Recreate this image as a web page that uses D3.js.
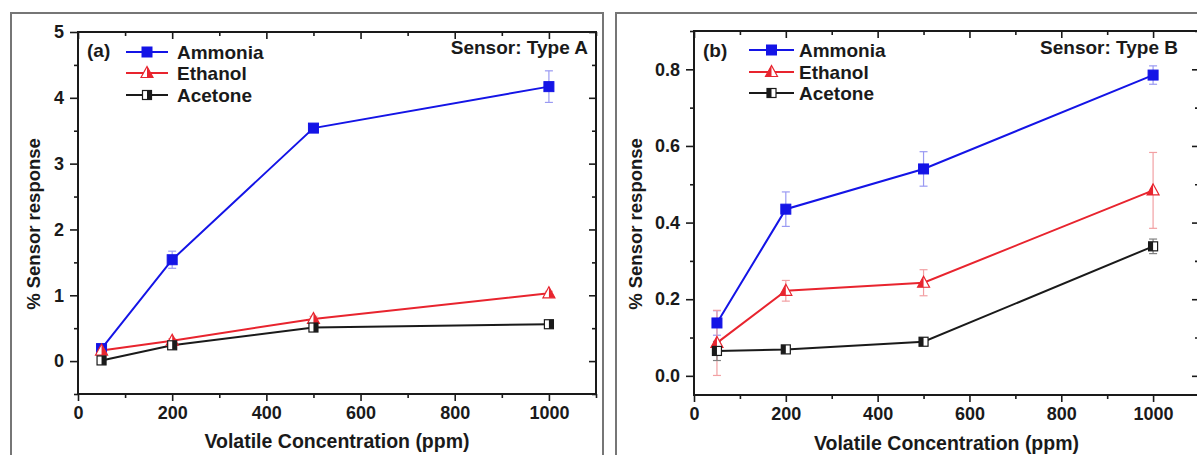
<!DOCTYPE html>
<html>
<head>
<meta charset="utf-8">
<script src="https://cdn.jsdelivr.net/npm/d3@7"></script>
<style>
  html, body { margin: 0; padding: 0; background: #fff; }
  svg { display: block; }
  text { font-family: "Liberation Sans", Arial, sans-serif; font-weight: bold; fill: #1a1a1a; }
</style>
</head>
<body>
<svg id="chart" width="1197" height="455"></svg>
<script>
// ---------- data ----------
const concentrations = [50, 200, 500, 1000];

const ammoniaA = [0.19, 1.54, 3.54, 4.17];
const ammoniaAErr = [0.03, 0.13, 0.03, 0.24];
const ethanolA = [0.16, 0.31, 0.64, 1.03];
const ethanolAErr = [0.03, 0.03, 0.04, 0.03];
const acetoneA = [0.01, 0.24, 0.51, 0.56];
const acetoneAErr = [0.03, 0.03, 0.06, 0.03];

const ammoniaB = [0.138, 0.435, 0.54, 0.785];
const ammoniaBErr = [0.032, 0.045, 0.045, 0.024];
const ethanolB = [0.086, 0.222, 0.243, 0.484];
const ethanolBErr = [0.085, 0.027, 0.034, 0.099];
const acetoneB = [0.065, 0.069, 0.089, 0.338];
const acetoneBErr = [0.025, 0.005, 0.006, 0.019];

const seriesNames = ["Ammonia", "Ethanol", "Acetone"];
const xTicks = [0, 200, 400, 600, 800, 1000];
const xMinorTicks = [100, 300, 500, 700, 900, 1100];
const yTicksA = [0, 1, 2, 3, 4, 5];
const yMinorTicksA = [-0.5, 0.5, 1.5, 2.5, 3.5, 4.5];
const yTicksB = [0.0, 0.2, 0.4, 0.6, 0.8];
const yMinorTicksB = [0.1, 0.3, 0.5, 0.7, 0.9];
const panelLabels = ["(a)", "(b)"];
const sensorLabels = ["Sensor: Type A", "Sensor: Type B"];
const xTitle = "Volatile Concentration (ppm)";
const yTitle = "% Sensor response";

// ---------- styles ----------
const colors = { Ammonia: "#1414e6", Ethanol: "#e8242e", Acetone: "#1a1a1a" };
const errColors = { Ammonia: "#9a9af2", Ethanol: "#f2a0a3", Acetone: "#808080" };
const axisColor = "#1a1a1a";

const svg = d3.select("#chart");

// panel frames
svg.append("rect").attr("x", 11).attr("y", 13).attr("width", 592).attr("height", 470)
  .attr("fill", "none").attr("stroke", "#767676").attr("stroke-width", 2);
svg.append("rect").attr("x", 616).attr("y", 13).attr("width", 620).attr("height", 470)
  .attr("fill", "none").attr("stroke", "#767676").attr("stroke-width", 2);

const panels = [
  {
    left: 78, right: 596, top: 32, bottom: 394,
    yDomain: [-0.5, 5], yTicks: yTicksA, yMinor: yMinorTicksA, yFmt: d3.format("d"),
    series: [
      { name: "Ammonia", vals: ammoniaA, err: ammoniaAErr },
      { name: "Ethanol", vals: ethanolA, err: ethanolAErr },
      { name: "Acetone", vals: acetoneA, err: acetoneAErr }
    ],
    halfSide: "right",
    label: panelLabels[0], sensor: sensorLabels[0],
    labelX: 87, legendLine: [126, 168], legendText: 177, legendY: [52, 73, 95],
    sensorX: 588, yTitleX: 40, xTitleY: 448
  },
  {
    left: 694, right: 1199, top: 31, bottom: 395,
    yDomain: [-0.05, 0.9], yTicks: yTicksB, yMinor: yMinorTicksB, yFmt: d3.format(".1f"),
    series: [
      { name: "Ammonia", vals: ammoniaB, err: ammoniaBErr },
      { name: "Ethanol", vals: ethanolB, err: ethanolBErr },
      { name: "Acetone", vals: acetoneB, err: acetoneBErr }
    ],
    halfSide: "left",
    label: panelLabels[1], sensor: sensorLabels[1],
    labelX: 703, legendLine: [749, 794], legendText: 799, legendY: [50, 72, 93],
    sensorX: 1178, yTitleX: 642, xTitleY: 450
  }
];

function drawMarker(g, name, cx, cy, halfSide) {
  const c = colors[name];
  if (name === "Ammonia") {
    g.append("rect").attr("x", cx - 5).attr("y", cy - 5).attr("width", 10).attr("height", 10)
      .attr("fill", c).attr("stroke", c).attr("stroke-width", 1);
  } else if (name === "Acetone") {
    g.append("rect").attr("x", cx - 4.5).attr("y", cy - 4.5).attr("width", 9).attr("height", 9)
      .attr("fill", "#fff").attr("stroke", c).attr("stroke-width", 1.2);
    const hx = halfSide === "left" ? cx - 4.5 : cx;
    g.append("rect").attr("x", hx).attr("y", cy - 4.5).attr("width", 4.5).attr("height", 9)
      .attr("fill", c);
  } else {
    const top = [cx, cy - 6.5], bl = [cx - 6, cy + 4.5], br = [cx + 6, cy + 4.5];
    g.append("path").attr("d", d3.line()([top, bl, br, top]) + "Z")
      .attr("fill", "#fff").attr("stroke", c).attr("stroke-width", 1.2);
    const half = halfSide === "left" ? [top, bl, [cx, cy + 4.5]] : [top, [cx, cy + 4.5], br];
    g.append("path").attr("d", d3.line()(half) + "Z").attr("fill", c);
  }
}

panels.forEach(p => {
  const x = d3.scaleLinear().domain([0, 1100]).range([p.left, p.right]);
  const y = d3.scaleLinear().domain(p.yDomain).range([p.bottom, p.top]);
  const g = svg.append("g");

  // ---- axes ----
  const styleAxis = sel => {
    sel.select(".domain").remove();
    sel.selectAll(".tick line").attr("stroke", axisColor).attr("stroke-width", 1.6);
    sel.selectAll(".tick text").attr("font-size", 18).attr("fill", "#1a1a1a")
      .attr("font-family", "Liberation Sans, Arial, sans-serif").attr("font-weight", "bold");
  };
  // bottom
  g.append("g").attr("transform", `translate(0,${p.bottom})`)
    .call(d3.axisBottom(x).tickValues(xTicks).tickSize(7).tickPadding(5).tickFormat(d3.format("d")))
    .call(styleAxis);
  g.append("g").attr("transform", `translate(0,${p.bottom})`)
    .call(d3.axisBottom(x).tickValues(xMinorTicks).tickSize(4).tickFormat(""))
    .call(styleAxis);
  // top (inward)
  g.append("g").attr("transform", `translate(0,${p.top})`)
    .call(d3.axisBottom(x).tickValues(xTicks).tickSize(7).tickFormat(""))
    .call(styleAxis);
  g.append("g").attr("transform", `translate(0,${p.top})`)
    .call(d3.axisBottom(x).tickValues(xMinorTicks).tickSize(4).tickFormat(""))
    .call(styleAxis);
  // left
  g.append("g").attr("transform", `translate(${p.left},0)`)
    .call(d3.axisLeft(y).tickValues(p.yTicks).tickSize(8).tickPadding(6).tickFormat(p.yFmt))
    .call(styleAxis);
  g.append("g").attr("transform", `translate(${p.left},0)`)
    .call(d3.axisLeft(y).tickValues(p.yMinor).tickSize(4).tickFormat(""))
    .call(styleAxis);
  // right (inward)
  g.append("g").attr("transform", `translate(${p.right},0)`)
    .call(d3.axisRight(y).tickValues(p.yTicks).tickSize(-7).tickFormat(""))
    .call(styleAxis);
  g.append("g").attr("transform", `translate(${p.right},0)`)
    .call(d3.axisRight(y).tickValues(p.yMinor).tickSize(-4).tickFormat(""))
    .call(styleAxis);

  // plot box
  g.append("rect").attr("x", p.left).attr("y", p.top)
    .attr("width", p.right - p.left).attr("height", p.bottom - p.top)
    .attr("fill", "none").attr("stroke", axisColor).attr("stroke-width", 2);

  // ---- error bars ----
  p.series.forEach(s => {
    const eg = g.append("g").attr("stroke", errColors[s.name]).attr("stroke-width", 1.2);
    concentrations.forEach((cx, i) => {
      const px = x(cx), y1 = y(s.vals[i] + s.err[i]), y2 = y(s.vals[i] - s.err[i]);
      eg.append("line").attr("x1", px).attr("x2", px).attr("y1", y1).attr("y2", y2);
      eg.append("line").attr("x1", px - 4).attr("x2", px + 4).attr("y1", y1).attr("y2", y1);
      eg.append("line").attr("x1", px - 4).attr("x2", px + 4).attr("y1", y2).attr("y2", y2);
    });
  });

  // ---- lines ----
  const line = d3.line().x((d, i) => x(concentrations[i])).y(d => y(d));
  p.series.forEach(s => {
    g.append("path").attr("d", line(s.vals)).attr("fill", "none")
      .attr("stroke", colors[s.name]).attr("stroke-width", 2);
  });

  // ---- markers ----
  p.series.forEach(s => {
    concentrations.forEach((cx, i) => drawMarker(g, s.name, x(cx), y(s.vals[i]), p.halfSide));
  });

  // ---- legend ----
  g.append("text").attr("x", p.labelX).attr("y", 57).attr("font-size", 19).text(p.label);
  seriesNames.forEach((n, i) => {
    const ly = p.legendY[i];
    g.append("line").attr("x1", p.legendLine[0]).attr("x2", p.legendLine[1])
      .attr("y1", ly).attr("y2", ly).attr("stroke", colors[n]).attr("stroke-width", 2);
    drawMarker(g, n, (p.legendLine[0] + p.legendLine[1]) / 2, ly, p.halfSide);
    g.append("text").attr("x", p.legendText).attr("y", ly + 7).attr("font-size", 19).text(n);
  });
  g.append("text").attr("x", p.sensorX).attr("y", 54).attr("font-size", 19)
    .attr("text-anchor", "end").text(p.sensor);

  // ---- titles ----
  g.append("text").attr("x", (p.left + Math.min(p.right, 1199)) / 2).attr("y", p.xTitleY)
    .attr("text-anchor", "middle").attr("font-size", 19.5).text(xTitle);
  g.append("text").attr("transform", `translate(${p.yTitleX},224) rotate(-90)`)
    .attr("text-anchor", "middle").attr("font-size", 18.5).text(yTitle);
});
</script>
</body>
</html>
